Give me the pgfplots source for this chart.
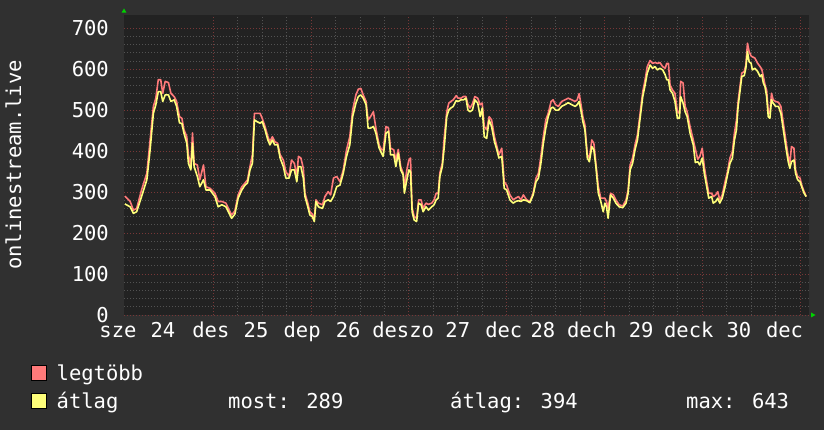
\documentclass[border=0pt]{standalone}
\usepackage{fontspec}
\setmainfont{DejaVu Sans Mono}
\usepackage{pgfplots}
\usepackage{pgfplotstable}
\pgfplotsset{compat=1.18}
\definecolor{canvas}{RGB}{48,48,48}
\definecolor{plotbg}{RGB}{34,34,34}
\definecolor{mingrid}{RGB}{82,82,82}
\definecolor{majgrid}{RGB}{120,55,55}
\definecolor{maxc}{RGB}{255,122,122}
\definecolor{avgc}{RGB}{255,255,122}
\definecolor{arrowc}{RGB}{0,210,0}
\pgfplotstableread{
h avg max
2.3 271 290
3.6 264 277
4.4 248 256
5.2 252 260
6.4 289 305
7.7 330 346
8.5 403 427
9.3 492 509
9.9 513 529
10.5 545 574
11.1 545 574
11.6 521 541
12.2 537 570
13.0 537 567
13.6 521 541
14.4 525 533
15.0 509 521
15.7 469 484
16.3 467 480
16.8 444 452
17.5 419 435
17.9 370 391
18.5 354 362
18.9 419 444
19.3 362 370
20.1 338 366
20.7 313 330
21.6 330 366
22.2 305 313
23.2 305 309
24.4 289 297
25.2 264 277
26.1 269 277
27.1 264 273
27.9 248 256
28.5 236 244
29.3 246 254
30.1 285 293
31.0 305 313
31.8 317 322
32.4 322 330
33.0 354 362
33.6 370 391
34.1 476 492
34.7 472 492
35.5 468 492
36.0 472 480
36.7 452 460
37.4 427 435
37.9 415 423
38.5 427 435
39.1 415 423
39.8 415 419
40.4 383 391
41.2 362 378
41.8 334 350
42.6 334 338
43.2 354 378
43.9 354 370
44.5 325 338
44.9 362 387
45.5 362 383
46.1 334 358
46.5 289 297
47.2 264 273
47.7 244 252
48.3 240 246
48.8 228 236
49.2 277 281
49.8 264 273
50.8 260 269
51.4 277 289
52.2 281 301
52.8 277 293
53.5 289 334
54.3 313 338
55.1 317 325
55.9 346 354
56.7 387 403
57.5 415 435
58.2 484 500
59.0 517 537
59.6 533 551
60.2 537 553
60.8 529 537
61.5 513 521
62.0 456 476
62.6 456 484
63.3 460 496
63.9 444 456
64.7 407 415
65.3 395 403
65.7 387 403
66.4 444 460
67.0 448 456
67.5 391 407
68.3 391 403
68.8 362 378
69.4 395 404
70.0 354 362
70.6 342 346
70.9 297 313
71.5 330 354
72.0 354 378
72.4 350 383
72.8 252 262
73.3 232 240
73.9 228 236
74.4 273 281
75.0 269 281
75.5 252 260
76.2 264 273
76.8 256 270
77.6 264 273
78.2 269 281
78.7 281 297
79.2 285 297
79.6 338 346
80.2 362 370
80.7 411 435
81.3 484 496
81.8 500 517
82.3 505 521
82.9 509 525
83.6 523 535
84.1 521 529
84.8 525 529
85.4 525 533
86.0 529 533
86.5 500 514
87.0 496 505
87.6 500 515
88.2 525 533
88.9 517 529
89.5 484 513
90.0 505 517
90.5 435 460
91.1 431 452
91.7 476 484
92.3 460 476
93.0 423 435
93.6 403 411
94.1 383 391
94.8 387 407
95.4 309 325
96.0 305 317
96.8 281 293
97.6 273 281
98.2 277 285
98.9 279 289
99.5 277 281
100.1 281 293
100.9 279 281
101.7 274 277
102.5 293 297
103.2 325 334
103.8 334 346
104.4 370 387
105.0 419 435
105.6 456 476
106.2 484 492
106.9 505 521
107.4 507 525
108.0 500 513
108.7 500 509
109.5 509 521
110.3 513 525
111.1 518 529
112.0 513 525
112.8 509 521
113.3 513 525
113.8 521 540
114.3 495 510
114.7 472 484
115.2 452 464
115.8 383 391
116.3 374 383
116.9 411 427
117.4 403 419
117.9 362 370
118.5 297 313
119.1 277 285
119.7 252 285
120.1 273 285
120.5 264 277
120.9 236 260
121.5 293 297
122.2 285 293
122.8 273 281
123.6 264 269
124.5 262 266
125.3 273 281
125.8 297 305
126.3 354 366
126.9 370 383
127.5 403 415
128.1 427 440
128.7 476 488
129.4 533 545
129.9 557 570
130.5 590 606
131.2 610 621
131.8 602 614
132.4 606 616
133.0 598 614
133.6 602 616
134.3 598 606
134.9 586 602
135.3 574 614
135.7 574 614
136.1 549 561
136.7 541 549
137.3 521 541
137.9 480 496
138.4 480 492
138.7 533 570
139.3 517 566
139.8 496 509
140.3 484 496
141.0 444 460
141.8 415 427
142.3 372 405
142.9 374 380
143.4 366 387
144.0 383 407
144.5 346 362
145.1 313 325
145.6 285 297
146.3 289 297
146.7 273 289
147.3 277 293
147.8 285 301
148.3 273 281
148.9 285 293
149.6 313 325
150.2 342 350
150.8 370 383
151.4 383 399
151.9 427 444
152.4 452 476
152.8 509 521
153.3 549 561
153.7 582 590
154.3 584 594
154.7 602 610
155.1 643 663
155.5 618 643
156.0 614 632
156.3 598 630
156.9 602 627
157.6 594 614
158.2 582 606
158.6 586 600
159.0 566 582
159.4 557 561
159.8 533 549
160.2 484 496
160.6 480 492
161.0 525 541
161.4 517 525
162.0 509 521
162.7 509 519
163.3 492 509
163.9 452 468
164.5 411 427
165.1 374 387
165.5 358 370
165.9 374 411
166.5 378 407
166.9 346 354
167.4 330 338
168.0 325 334
168.4 313 317
169.0 297 301
169.5 289 289
}\traffic
\begin{document}
\begin{tikzpicture}[x=1pt,y=1pt,font=\fontsize{20.5}{24}\selectfont]
\useasboundingbox (0,0) rectangle (824,430);
\fill[canvas] (0,0) rectangle (824,430);
\begin{axis}[
  at={(124pt,115pt)}, anchor=south west,
  width=685pt, height=300pt, scale only axis,
  xmin=2.09, xmax=170.2, ymin=0, ymax=732,
  axis background/.style={fill=plotbg},
  axis line style={draw=none},
  xtick={24,48,...,168}, xticklabels={},
  minor x tick num=3,
  ytick={0,100,...,700},
  minor y tick num=4,
  grid=both,
  major grid style={majgrid, dash pattern=on 1pt off 2pt, line width=0.75pt},
  minor grid style={mingrid, dash pattern=on 1pt off 2pt, line width=0.75pt},
  major tick length=0pt, minor tick length=0pt,
  tick style={draw=none},
  /pgf/number format/assume math mode=true,
  yticklabel style={font=\fontsize{20.5}{24}\selectfont, text=white, inner sep=0pt, anchor=east, xshift=-15pt},
  clip=false,
]
\addplot[maxc, line width=1.6pt, line join=round] table[x=h, y=max] {\traffic};
\addplot[avgc, line width=1.6pt, line join=round] table[x=h, y=avg] {\traffic};
\foreach \p/\t in {0.6/sze, 11.66/24, 23.4/des, 34.5/25, 45.8/dep, 57.1/26, 70.6/deszo, 84.0/27, 95.3/dec, 104.9/28, 116.9/dech, 129.0/29, 140.7/deck, 153.0/30, 164.2/dec}{
  \edef\temp{\noexpand\node[anchor=base, inner sep=0pt, text=white, yshift=-23pt] at (axis cs:\p,0) {\t};}
  \temp
}
\end{axis}
\node[rotate=90, text=white, inner sep=0pt] at (13.5,265) {onlinestream.live};
\fill[arrowc] (121.5,417.3) -- (126.5,417.3) -- (124,421.5) -- cycle;
\fill[arrowc] (811,112.5) -- (811,117.5) -- (815.5,115) -- cycle;
\filldraw[fill=maxc, draw=black, line width=0.8pt] (31.5,49.5) rectangle (46,64.5);
\filldraw[fill=avgc, draw=black, line width=0.8pt] (31.5,21.5) rectangle (46,36.5);
\node[anchor=base west, inner sep=0pt, text=white] at (56.5,49) {legtöbb};
\node[anchor=base west, inner sep=0pt, text=white] at (56.5,21) {átlag};
\node[anchor=base west, inner sep=0pt, text=white] at (228,21) {most: 289};
\node[anchor=base west, inner sep=0pt, text=white] at (450,21) {átlag: 394};
\node[anchor=base west, inner sep=0pt, text=white] at (686,21) {max: 643};
\end{tikzpicture}
\end{document}
